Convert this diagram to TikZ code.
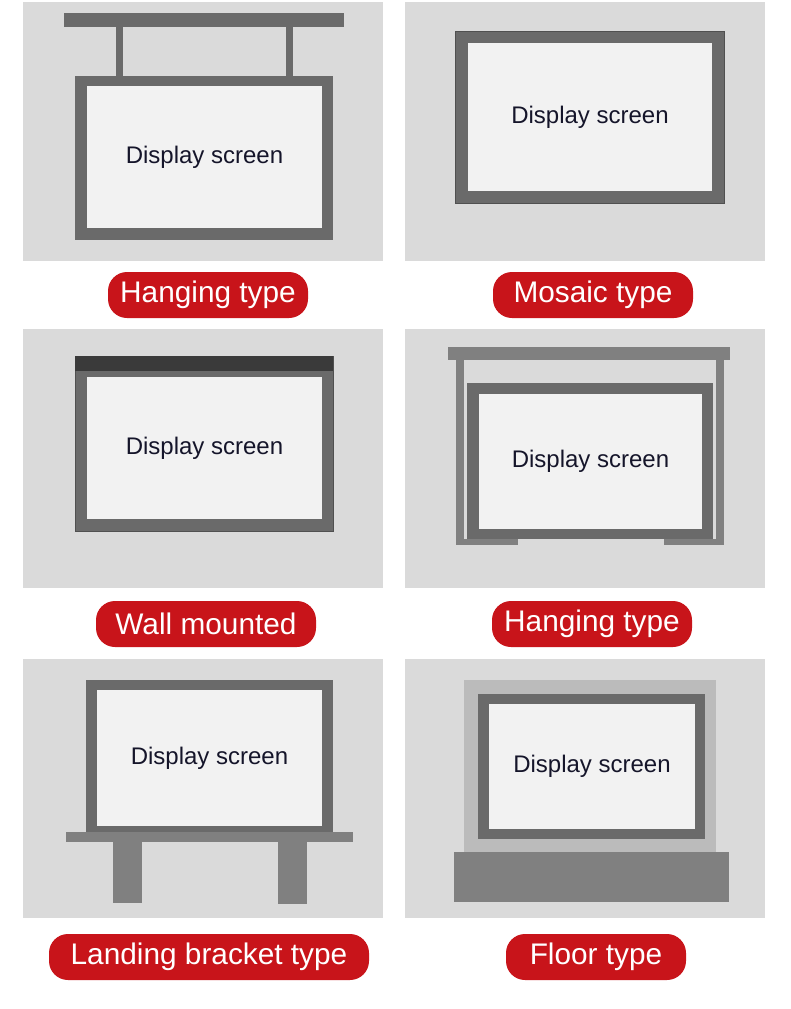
\documentclass[tikz,border=0pt]{standalone}
\usepackage{fontspec}
\setmainfont{Liberation Sans}
\definecolor{panel}{HTML}{DADADA}
\definecolor{frame}{HTML}{6A6A6A}
\definecolor{post}{HTML}{808080}
\definecolor{screen}{HTML}{F2F2F2}
\definecolor{pill}{HTML}{C8141A}
\definecolor{ink}{HTML}{15152A}
\definecolor{topbar}{HTML}{3A3A3A}
\definecolor{backing}{HTML}{BBBBBB}
\tikzset{
  scr/.style={fill=screen, inner sep=0pt, text=ink, font=\fontsize{24}{28}\selectfont},
  tag/.style={fill=pill, text=white, rounded corners=19pt, inner sep=0pt,
    minimum height=46, font=\fontsize{29.8}{33}\selectfont},
}
\begin{document}
\begin{tikzpicture}[x=1pt,y=-1pt]
     \useasboundingbox (0,0) rectangle (790,1009);
     \fill[white] (0,0) rectangle (790,1009);
     % hanging type
     \fill[panel] (23,2) rectangle (383,261);
     \fill[frame] (64,13) rectangle (344,27);
     \fill[frame] (116,27) rectangle (123,76); \fill[frame] (286,27) rectangle (293,76);
     \fill[frame] (75,76) rectangle (333,240);
     \node[scr, minimum width=235, minimum height=142] (s1) at (204.5,157) {Display screen};
     \node[tag, minimum width=200] (t1) at (208,295) {Hanging type};
     % mosaic type
     \fill[panel] (405,2) rectangle (765,261);
     \filldraw[fill=frame, draw=frame!75!black] (455,31) rectangle (724,203);
     \node[scr, minimum width=244, minimum height=148] (s2) at (590,117) {Display screen};
     \node[tag, minimum width=200] (t2) at (593,295) {Mosaic type};
     % wall mounted
     \fill[panel] (23,329) rectangle (383,588);
     \filldraw[fill=frame, draw=frame!75!black] (75,356) rectangle (333,531);
     \fill[topbar] (75,356) rectangle (333,371);
     \node[scr, minimum width=235, minimum height=142] (s3) at (204.5,448) {Display screen};
     \node[tag, minimum width=220] (t3) at (206,624) {Wall mounted};
     % hanging type (frame)
     \fill[panel] (405,329) rectangle (765,588);
     \fill[post] (448,347) rectangle (730,360);
     \fill[post] (456,360) rectangle (464,545); \fill[post] (716,360) rectangle (724,545);
     \fill[post] (456,539) rectangle (518,545); \fill[post] (664,539) rectangle (724,545);
     \fill[frame] (467,383) rectangle (713,539);
     \node[scr, minimum width=223, minimum height=135] (s4) at (590.5,461.5) {Display screen};
     \node[tag, minimum width=200] (t4) at (592,624) {Hanging type};
     % landing bracket type
     \fill[panel] (23,659) rectangle (383,918);
     \fill[frame] (86,680) rectangle (333,832);
     \node[scr, minimum width=225, minimum height=136] (s5) at (209.5,758) {Display screen};
     \fill[post] (66,832) rectangle (353,842);
     \fill[post] (113,842) rectangle (142,903); \fill[post] (278,842) rectangle (307,904);
     \node[tag, minimum width=320] (t5) at (209,957) {Landing bracket type};
     % floor type
     \fill[panel] (405,659) rectangle (765,918);
     \fill[backing] (464,680) rectangle (716,852);
     \fill[frame] (478,694) rectangle (705,839);
     \node[scr, minimum width=206, minimum height=125] (s6) at (592,766.5) {Display screen};
     \fill[post] (454,852) rectangle (729,902);
     \node[tag, minimum width=180] (t6) at (596,957) {Floor type};
    \end{tikzpicture}
\end{document}
